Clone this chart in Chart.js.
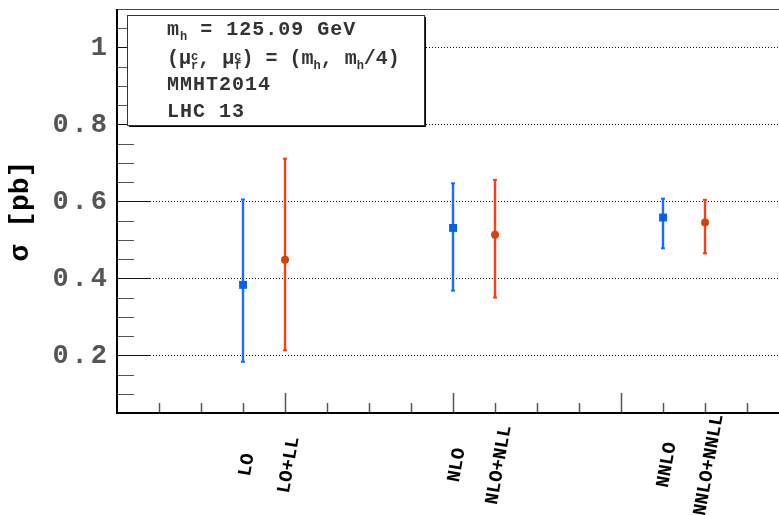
<!DOCTYPE html>
<html>
<head>
<meta charset="utf-8">
<script src="https://cdn.jsdelivr.net/npm/chart.js@4.4.1/dist/chart.umd.min.js"></script>
<style>
  html, body { margin: 0; padding: 0; background: #fff; }
  #wrap { width: 779px; height: 515px; }
</style>
</head>
<body>
<div id="wrap"><canvas id="grafico" width="779" height="515"></canvas></div>
<script>
// ordens de perturbacao (posicao no eixo x em unidades do eixo)
const ordens = ['LO', 'LO+LL', 'NLO', 'NLO+NLL', 'NNLO', 'NNLO+NNLL'];
const posicoes = [0.75, 1, 2, 2.25, 3.25, 3.5];

// secao de choque em pb: valor central, limite inferior e superior
const sigmaCentral = [0.383, 0.448, 0.531, 0.513, 0.558, 0.545];
const sigmaMin = [0.183, 0.213, 0.368, 0.350, 0.478, 0.465];
const sigmaMax = [0.605, 0.711, 0.647, 0.656, 0.607, 0.604];

// qual serie: 0 = ordem fixa (azul), 1 = ressomada (vermelho)
const serie = [0, 1, 0, 1, 0, 1];

const yTicks = [0.2, 0.4, 0.6, 0.8, 1];
const yTickLabels = ['0.2', '0.4', '0.6', '0.8', '1'];

const infoBox = [
    [{ t: 'm' }, { sub: 'h' }, { t: ' = 125.09 GeV' }],
    [{ t: '(\u03bc' }, { sup: 'c', sub: 'r' }, { t: ', \u03bc' }, { sup: 'c', sub: 'f' },
     { t: ') = (m' }, { sub: 'h' }, { t: ', m' }, { sub: 'h' }, { t: '/4)' }],
    [{ t: 'MMHT2014' }],
    [{ t: 'LHC 13' }]
];

const azul = '#1a6cff';
const azulMarca = '#0a5ff0';
const vermelho = '#ff3c14';
const vermelhoMarca = '#d4420e';
const MONO = '"Liberation Mono", "DejaVu Sans Mono", monospace';

function pontosDaSerie(s) {
    let arr = [];
    serie.forEach((v, i) => {
        if (v === s) arr.push({ x: posicoes[i], y: sigmaCentral[i] });
    });
    return arr;
}

const barrasDeErro = {
    id: 'barrasDeErro',
    beforeDatasetsDraw: (chart) => {
        const { ctx, scales: { x, y } } = chart;
        ctx.save();
        ordens.forEach((nome, i) => {
            const px = Math.round(x.getPixelForValue(posicoes[i]));
            const top = y.getPixelForValue(sigmaMax[i]);
            const bot = y.getPixelForValue(sigmaMin[i]);
            ctx.strokeStyle = serie[i] === 0 ? azul : vermelho;
            ctx.fillStyle = ctx.strokeStyle;
            ctx.lineWidth = 2.4;
            ctx.beginPath();
            ctx.moveTo(px, top);
            ctx.lineTo(px, bot);
            ctx.stroke();
            // tampinhas
            ctx.fillRect(px - 2, top - 1, 4, 2);
            ctx.fillRect(px - 2, bot - 1, 4, 2);
        });
        ctx.restore();
    }
};

function textoRico(ctx, partes, x, base, tam, esp) {
    let cx = x;
    partes.forEach((p) => {
        if (p.t !== undefined) {
            ctx.font = 'bold ' + tam + 'px ' + MONO;
            ctx.letterSpacing = esp + 'px';
            ctx.fillText(p.t, cx, base);
            cx += ctx.measureText(p.t).width;
        } else {
            ctx.font = 'bold 12px ' + MONO;
            ctx.letterSpacing = '0px';
            let w = 0;
            if (p.sup) {
                ctx.fillText(p.sup, cx, base - 4);
                w = Math.max(w, ctx.measureText(p.sup).width);
            }
            if (p.sub) {
                ctx.fillText(p.sub, cx, base + 5);
                w = Math.max(w, ctx.measureText(p.sub).width);
            }
            cx += w;
        }
    });
    ctx.letterSpacing = '0px';
}

const moldura = {
    id: 'moldura',
    afterDraw: (chart) => {
        const { ctx, chartArea: { top, bottom, left, right }, scales: { x, y } } = chart;
        ctx.save();

        // ticks do eixo y (para dentro)
        for (let v = 0.05; v < y.max + 1e-6; v += 0.05) {
            const py = Math.round(y.getPixelForValue(v)) + 0.5;
            const maior = yTicks.some(t => Math.abs(t - v) < 1e-6);
            ctx.strokeStyle = maior ? '#111' : '#555';
            ctx.lineWidth = 1;
            ctx.beginPath();
            ctx.moveTo(left, py);
            ctx.lineTo(left + (maior ? 33 : 17), py);
            ctx.stroke();
        }
        // ticks do eixo x
        for (let v = 0.25; v < x.max; v += 0.25) {
            const px = Math.round(x.getPixelForValue(v)) + 0.5;
            const maior = Math.abs(v - Math.round(v)) < 1e-6;
            ctx.strokeStyle = '#555';
            ctx.lineWidth = 1.5;
            ctx.beginPath();
            ctx.moveTo(px, bottom);
            ctx.lineTo(px, bottom - (maior ? 20 : 10));
            ctx.stroke();
        }

        // quadro
        ctx.strokeStyle = '#444';
        ctx.lineWidth = 1;
        ctx.beginPath();
        ctx.moveTo(left, top + 0.5);
        ctx.lineTo(right, top + 0.5);
        ctx.stroke();
        ctx.strokeStyle = '#000';
        ctx.lineWidth = 2;
        ctx.beginPath();
        ctx.moveTo(left, top);
        ctx.lineTo(left, bottom);
        ctx.lineTo(right, bottom);
        ctx.stroke();

        // rotulos do eixo y
        ctx.fillStyle = '#555';
        ctx.font = 'bold 27px ' + MONO;
        ctx.letterSpacing = '3px';
        ctx.textAlign = 'right';
        ctx.textBaseline = 'middle';
        yTicks.forEach((v, i) => {
            ctx.fillText(yTickLabels[i], left - 7, y.getPixelForValue(v) + 1);
        });
        ctx.letterSpacing = '0px';

        // rotulos do eixo x
        ctx.fillStyle = '#000';
        ctx.font = 'bold 19px ' + MONO;
        ctx.textAlign = 'center';
        ctx.textBaseline = 'middle';
        ordens.forEach((nome, i) => {
            ctx.save();
            ctx.translate(x.getPixelForValue(posicoes[i]) + 4, 465);
            ctx.rotate(-80 * Math.PI / 180);
            ctx.fillText(nome, 0, 0);
            ctx.restore();
        });

        // caixa de informacoes
        const bx = 127, by = 15, bw = 297, bh = 110;
        ctx.fillStyle = '#000';
        ctx.fillRect(bx + bw, by + 2, 2, bh);
        ctx.fillRect(bx + 2, by + bh, bw, 2);
        ctx.fillStyle = '#fff';
        ctx.fillRect(bx, by, bw, bh);
        ctx.strokeStyle = '#333';
        ctx.lineWidth = 1;
        ctx.strokeRect(bx + 0.5, by + 0.5, bw, bh);

        ctx.fillStyle = '#333';
        ctx.textAlign = 'left';
        ctx.textBaseline = 'alphabetic';
        const bases = [35, 64, 90, 117];
        const espacos = [1, 0, 1, 1];
        infoBox.forEach((linha, i) => textoRico(ctx, linha, 167, bases[i], 20, espacos[i]));

        ctx.restore();
    }
};

Chart.register(barrasDeErro, moldura);

const config = {
    type: 'scatter',
    data: {
        datasets: [{
            label: 'ordem fixa',
            data: pontosDaSerie(0),
            pointStyle: 'rect',
            pointRadius: 5.6,
            pointBorderWidth: 0,
            backgroundColor: azulMarca,
            borderColor: azulMarca
        }, {
            label: 'ressomada',
            data: pontosDaSerie(1),
            pointStyle: 'circle',
            pointRadius: 4,
            pointBorderWidth: 0,
            backgroundColor: vermelhoMarca,
            borderColor: vermelhoMarca
        }]
    },
    options: {
        responsive: false,
        animation: false,
        events: [],
        layout: { autoPadding: false, padding: { top: 9, left: 0, right: 0, bottom: 0 } },
        plugins: { legend: { display: false }, tooltip: { enabled: false } },
        scales: {
            x: {
                type: 'linear',
                min: 0,
                max: 3.94,
                ticks: { display: false },
                grid: { display: false },
                border: { display: false },
                afterFit: (s) => { s.height = 102; }
            },
            y: {
                type: 'linear',
                min: 0.05,
                max: 1.1,
                afterBuildTicks: (s) => { s.ticks = yTicks.map(v => ({ value: v })); },
                afterFit: (s) => { s.width = 117; },
                ticks: { display: false },
                grid: { color: '#111', lineWidth: 1, drawTicks: false },
                border: { display: false, dash: [1, 2] },
                title: {
                    display: true,
                    text: '\u03c3 [pb]',
                    color: '#000',
                    font: { family: MONO, size: 28, weight: 'bold' },
                    padding: { top: 4, bottom: 0 }
                }
            }
        }
    }
};

const grafico = new Chart('grafico', config);
</script>
</body>
</html>
